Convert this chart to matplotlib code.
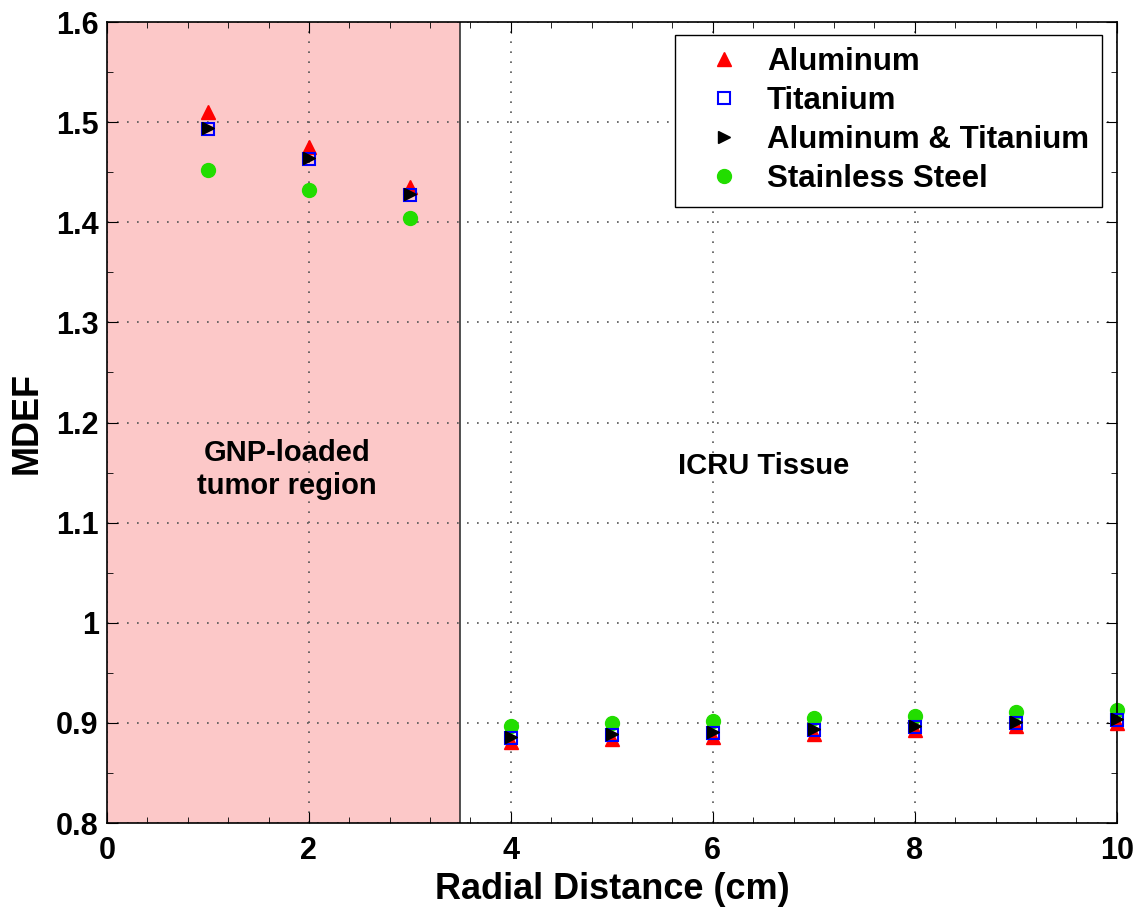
import numpy as np
import matplotlib.pyplot as plt
from matplotlib.ticker import MultipleLocator

# radial distance (cm) and MDEF for each shielding material
radius = [1, 2, 3, 4, 5, 6, 7, 8, 9, 10]
aluminum = [1.510, 1.475, 1.435, 0.881, 0.884, 0.886, 0.889, 0.893, 0.897, 0.900]
titanium = [1.493, 1.463, 1.427, 0.885, 0.888, 0.890, 0.893, 0.896, 0.900, 0.903]
al_ti = [1.494, 1.464, 1.428, 0.886, 0.889, 0.891, 0.894, 0.897, 0.901, 0.904]
steel = [1.452, 1.432, 1.404, 0.897, 0.900, 0.902, 0.905, 0.907, 0.911, 0.913]

tumor_edge = 3.5

plt.rcParams['font.family'] = ['Liberation Sans', 'DejaVu Sans']
plt.rcParams['font.weight'] = 'bold'

fig = plt.figure(figsize=(11.43, 9.07), dpi=100)
ax = fig.add_axes([0.0936, 0.0926, 0.8834, 0.8831])

# shaded tumour region
ax.axvspan(0, tumor_edge, facecolor='#fcc8c8', edgecolor='none', zorder=0)
ax.axvline(tumor_edge, color='#333333', lw=1.2, zorder=1)

ax.plot(radius, aluminum, '^', color='#ff0000', ms=10, mec='#ff0000', label='Aluminum', zorder=3, clip_on=False)
ax.plot(radius, titanium, 's', mfc='none', mec='#0000ff', mew=1.5, ms=8, label='Titanium', zorder=4, clip_on=False)
ax.plot(radius, al_ti, '>', color='black', ms=8, label='Aluminum & Titanium', zorder=5, clip_on=False)
ax.plot(radius, steel, 'o', color='#22dd00', ms=10, label='Stainless Steel', zorder=2, clip_on=False)

ax.set_xlim(0, 10)
ax.set_ylim(0.8, 1.6)
ax.xaxis.set_major_locator(MultipleLocator(2))
ax.xaxis.set_minor_locator(MultipleLocator(0.4))
ax.yaxis.set_minor_locator(MultipleLocator(0.05))
ax.set_yticks(np.arange(0.8, 1.61, 0.1))
ax.set_yticklabels(['0.8', '0.9', '1', '1.1', '1.2', '1.3', '1.4', '1.5', '1.6'])
ax.tick_params(which='both', direction='in', top=True, right=True, labelsize=22)
ax.tick_params(axis='x', pad=9)
ax.tick_params(axis='y', pad=6)
ax.tick_params(which='major', length=8)
ax.tick_params(which='minor', length=4)
for s in ax.spines.values():
    s.set_linewidth(1.2)

ax.grid(True, which='major', linestyle=(0, (1, 5)), color='#555555', lw=1.2)

ax.set_xlabel('Radial Distance (cm)', fontsize=26, fontweight='bold', labelpad=5)
ax.set_ylabel('MDEF', fontsize=26, fontweight='bold', labelpad=8)

ax.text(1.78, 1.153, 'GNP-loaded\ntumor region', ha='center', va='center', fontsize=21, fontweight='bold')
ax.text(6.5, 1.157, 'ICRU Tissue', ha='center', va='center', fontsize=21, fontweight='bold')

leg = ax.legend(loc='upper right', fontsize=22.5, numpoints=1, fancybox=False,
                framealpha=1, edgecolor='black', borderpad=0.4, labelspacing=0.285,
                handlelength=2.34, handletextpad=0.2, borderaxespad=0,
                bbox_to_anchor=(0.985, 0.984))
leg.get_frame().set_linewidth(1.0)

fig.savefig('out.png', dpi=100)
